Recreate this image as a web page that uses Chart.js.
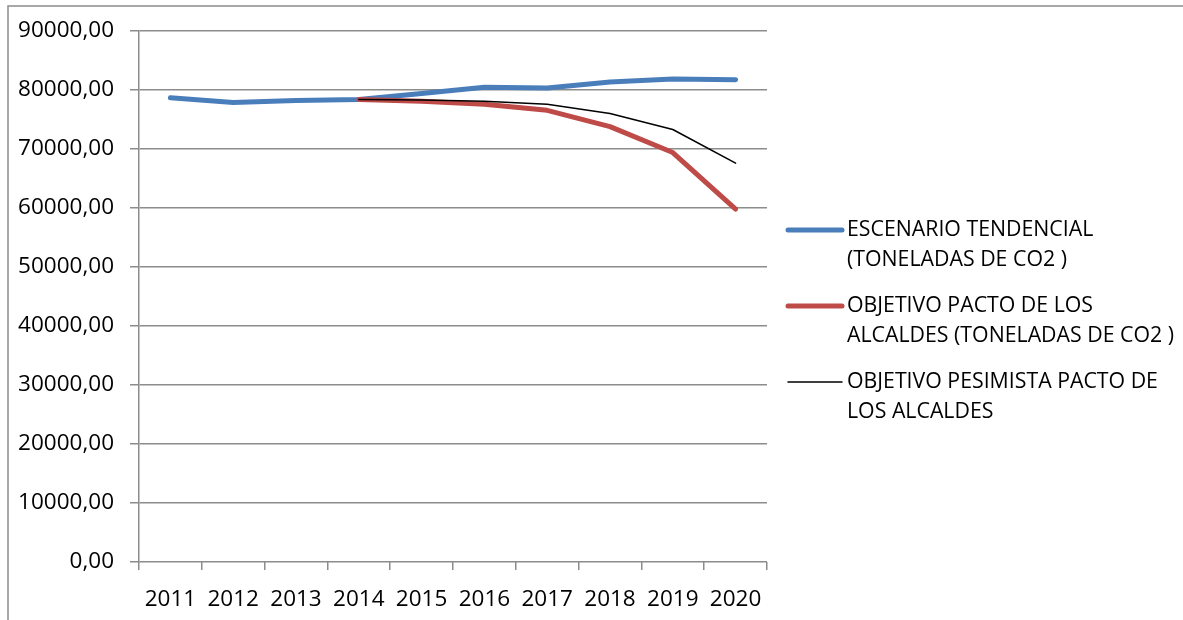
<!DOCTYPE html>
<html>
<head>
<meta charset="utf-8">
<script src="https://cdn.jsdelivr.net/npm/chart.js@4"></script>
<style>
    html, body { margin: 0; padding: 0; background: #ffffff; }
    #wrap { width: 1183px; height: 620px; }
</style>
</head>
<body>
<div id="wrap"><canvas id="chart" width="1183" height="620"></canvas></div>
<script>
const years = ["2011", "2012", "2013", "2014", "2015", "2016", "2017", "2018", "2019", "2020"];
const tendencial = [78700, 77900, 78200, 78400, 79400, 80450, 80340, 81350, 81860, 81750];
const objetivo = [null, null, null, 78400, 78100, 77570, 76550, 73800, 69400, 59800];
const pesimista = [null, null, null, 78400, 78300, 78100, 77570, 76000, 73300, 67600];
const yTicks = [0, 10000, 20000, 30000, 40000, 50000, 60000, 70000, 80000, 90000];

const legendItems = [
    { lines: ["ESCENARIO TENDENCIAL", "(TONELADAS DE CO2 )"], color: "#4a7ebb", width: 5 },
    { lines: ["OBJETIVO PACTO DE LOS", "ALCALDES (TONELADAS DE CO2 )"], color: "#be4b48", width: 5 },
    { lines: ["OBJETIVO PESIMISTA PACTO DE", "LOS ALCALDES"], color: "#000000", width: 1.5 },
];

const fontFamily = "'Open Sans', 'Noto Sans', sans-serif";
const gridColor = "#8c8c8c";

// outer frame and the wrapped legend on the right
const framePlugin = {
    id: "frame",
    beforeDraw(chart) {
        const ctx = chart.ctx;
        ctx.save();
        ctx.strokeStyle = "#8c8c8c";
        ctx.lineWidth = 1.5;
        ctx.beginPath();
        ctx.moveTo(8, chart.height);
        ctx.lineTo(8, 6);
        ctx.lineTo(chart.width, 6);
        ctx.stroke();
        ctx.restore();
    },
    afterDraw(chart) {
        const ctx = chart.ctx;
        const x0 = chart.chartArea.right + 21;
        let y = 230;
        ctx.save();
        ctx.font = "21.3px " + fontFamily;
        ctx.textBaseline = "middle";
        ctx.fillStyle = "#000000";
        legendItems.forEach((item) => {
            ctx.strokeStyle = item.color;
            ctx.lineWidth = item.width;
            ctx.lineCap = "round";
            ctx.beginPath();
            ctx.moveTo(x0, y);
            ctx.lineTo(x0 + 54, y);
            ctx.stroke();
            item.lines.forEach((txt, i) => {
                ctx.fillText(txt, x0 + 59, y + i * 30);
            });
            y += 76;
        });
        ctx.restore();
    }
};

new Chart(document.getElementById("chart"), {
    type: "line",
    data: {
        labels: years,
        datasets: [
            {
                label: "ESCENARIO TENDENCIAL (TONELADAS DE CO2 )",
                data: tendencial,
                borderColor: "#4a7ebb",
                borderWidth: 5,
                order: 2,
            },
            {
                label: "OBJETIVO PACTO DE LOS ALCALDES (TONELADAS DE CO2 )",
                data: objetivo,
                borderColor: "#be4b48",
                borderWidth: 5,
                order: 1,
            },
            {
                label: "OBJETIVO PESIMISTA PACTO DE LOS ALCALDES",
                data: pesimista,
                borderColor: "#000000",
                borderWidth: 1.5,
                order: 0,
            },
        ],
    },
    options: {
        responsive: false,
        animation: false,
        layout: { padding: { left: 0, top: 31, right: 416, bottom: 0 } },
        elements: {
            line: { tension: 0, borderCapStyle: "round", borderJoinStyle: "round", fill: false },
            point: { radius: 0, hoverRadius: 0 },
        },
        plugins: {
            legend: { display: false },
            tooltip: { enabled: false },
        },
        scales: {
            x: {
                offset: true,
                grid: {
                    offset: true,
                    drawOnChartArea: false,
                    drawTicks: true,
                    tickLength: 8,
                    color: gridColor,
                    lineWidth: 1.5,
                },
                border: { display: false },
                ticks: {
                    color: "#000000",
                    font: { family: fontFamily, size: 22.5 },
                    padding: 16,
                    maxRotation: 0,
                    autoSkip: false,
                },
                afterFit(scale) { scale.height = 58; },
            },
            y: {
                min: 0,
                max: 90000,
                afterBuildTicks(scale) {
                    scale.ticks = yTicks.map((v) => ({ value: v }));
                },
                grid: {
                    color: gridColor,
                    lineWidth: 1.5,
                    tickLength: 9,
                },
                border: { display: true, color: gridColor, width: 1.5 },
                ticks: {
                    color: "#000000",
                    font: { family: fontFamily, size: 22.5 },
                    padding: 16,
                    callback: (v) => v.toFixed(2).replace(".", ","),
                },
                afterFit(scale) { scale.width = 139; },
            },
        },
    },
    plugins: [framePlugin],
});
</script>
</body>
</html>
